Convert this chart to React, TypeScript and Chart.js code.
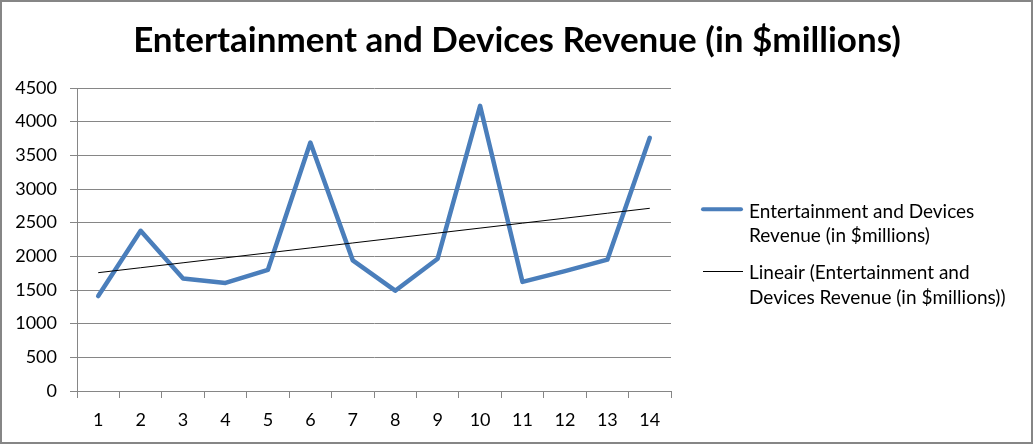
import React, { useEffect, useRef } from "react";
import { Chart, registerables } from "chart.js";

Chart.register(...registerables);

const titleText = "Entertainment and Devices Revenue (in $millions)";
const categories = ["1", "2", "3", "4", "5", "6", "7", "8", "9", "10", "11", "12", "13", "14"];
const revenue = [1410, 2380, 1670, 1605, 1800, 3690, 1940, 1490, 1965, 4235, 1620, 1780, 1950, 3760];
const yTickValues = [0, 500, 1000, 1500, 2000, 2500, 3000, 3500, 4000, 4500];
const seriesLabel = "Entertainment and Devices Revenue (in $millions)";
const trendLabel = "Lineair (Entertainment and Devices Revenue (in $millions))";
const seriesLegendLines = ["Entertainment and Devices", "Revenue (in $millions)"];
const trendLegendLines = ["Lineair (Entertainment and", "Devices Revenue (in $millions))"];

const FONT = "Lato, 'Open Sans', sans-serif";
const BLUE = "#4A7EBB";
const GRID = "#868686";

// Excel-style linear trendline (least squares) over the series
function linearTrend(values: number[]): number[] {
  const n = values.length;
  const xs = values.map((_, i) => i + 1);
  const mx = xs.reduce((a, b) => a + b, 0) / n;
  const my = values.reduce((a, b) => a + b, 0) / n;
  let sxy = 0;
  let sxx = 0;
  for (let i = 0; i < n; i++) {
    sxy += (xs[i] - mx) * (values[i] - my);
    sxx += (xs[i] - mx) * (xs[i] - mx);
  }
  const slope = sxy / sxx;
  const intercept = my - slope * mx;
  return xs.map((x) => intercept + slope * x);
}

const framePlugin = {
  id: "frame",
  beforeDraw(chart: any) {
    const ctx = chart.ctx;
    ctx.save();
    ctx.fillStyle = "#ffffff";
    ctx.fillRect(0, 0, chart.width, chart.height);
    ctx.restore();
  },
  afterDraw(chart: any) {
    const ctx = chart.ctx;
    ctx.save();
    ctx.strokeStyle = GRID;
    ctx.lineWidth = 2;
    ctx.strokeRect(1, 1, chart.width - 2, chart.height - 2);
    ctx.restore();
  },
};

const titlePlugin = {
  id: "excelTitle",
  afterDraw(chart: any) {
    const ctx = chart.ctx;
    ctx.save();
    ctx.font = `bold 35px ${FONT}`;
    ctx.fillStyle = "#000000";
    ctx.textAlign = "center";
    ctx.textBaseline = "alphabetic";
    const target = 770;
    const w = ctx.measureText(titleText).width;
    if ("letterSpacing" in ctx && w < target - 4) {
      const sp = (target - w) / titleText.length;
      (ctx as any).letterSpacing = `${sp.toFixed(2)}px`;
    }
    ctx.fillText(titleText, 517, 52);
    ctx.restore();
  },
};

const legendPlugin = {
  id: "sideLegend",
  afterDraw(chart: any) {
    const ctx = chart.ctx;
    ctx.save();
    ctx.font = `19px ${FONT}`;
    ctx.fillStyle = "#000000";
    ctx.textBaseline = "alphabetic";
    ctx.textAlign = "left";
    const textX = 749;
    // series entry
    ctx.strokeStyle = BLUE;
    ctx.lineWidth = 4;
    ctx.lineCap = "round";
    ctx.beginPath();
    ctx.moveTo(703, 209.3);
    ctx.lineTo(741, 209.3);
    ctx.stroke();
    ctx.fillText(seriesLegendLines[0], textX, 218);
    ctx.fillText(seriesLegendLines[1], textX, 241.5);
    // trend entry
    ctx.strokeStyle = "#000000";
    ctx.lineWidth = 1;
    ctx.lineCap = "butt";
    ctx.beginPath();
    ctx.moveTo(703, 271.5);
    ctx.lineTo(743, 271.5);
    ctx.stroke();
    ctx.fillText(trendLegendLines[0], textX, 278.5);
    ctx.fillText(trendLegendLines[1], textX, 304);
    ctx.restore();
  },
};

export default function App() {
  const canvasRef = useRef<HTMLCanvasElement | null>(null);

  useEffect(() => {
    if (!canvasRef.current) return;
    const trend = linearTrend(revenue);
    const chart = new Chart(canvasRef.current, {
      type: "line",
      data: {
        labels: categories,
        datasets: [
          {
            label: seriesLabel,
            data: revenue,
            borderColor: BLUE,
            backgroundColor: BLUE,
            borderWidth: 4.5,
            pointRadius: 0,
            tension: 0,
            borderJoinStyle: "round",
            borderCapStyle: "round",
            order: 2,
          },
          {
            label: trendLabel,
            data: trend,
            borderColor: "#000000",
            borderWidth: 1,
            pointRadius: 0,
            tension: 0,
            order: 1,
          },
        ],
      },
      options: {
        responsive: false,
        animation: false,
        devicePixelRatio: 1,
        layout: { padding: { left: 0, top: 88, right: 362, bottom: 13 } },
        plugins: {
          legend: { display: false },
          tooltip: { enabled: false },
          title: { display: false },
        },
        scales: {
          x: {
            type: "category",
            offset: true,
            grid: {
              display: true,
              offset: true,
              drawOnChartArea: false,
              drawTicks: true,
              tickLength: 7,
              color: GRID,
            },
            border: { display: true, color: GRID, width: 1 },
            ticks: {
              color: "#000000",
              font: { family: FONT, size: 18 },
              padding: 11,
              maxRotation: 0,
              autoSkip: false,
            },
            afterFit(scale: any) {
              scale.height = 40;
            },
          },
          y: {
            min: 0,
            max: 4500,
            afterBuildTicks(scale: any) {
              scale.ticks = yTickValues.map((v) => ({ value: v }));
            },
            grid: {
              display: true,
              drawOnChartArea: true,
              drawTicks: true,
              tickLength: 7,
              color: GRID,
            },
            border: { display: true, color: GRID, width: 1 },
            ticks: {
              color: "#000000",
              font: { family: FONT, size: 18 },
              padding: 13,
              callback: (v: any) => String(v),
            },
            afterFit(scale: any) {
              scale.width = 77;
            },
          },
        },
      },
      plugins: [framePlugin, titlePlugin, legendPlugin],
    });
    return () => chart.destroy();
  }, []);

  return (
    <div style={{ position: "absolute", left: 0, top: 0, width: 1033, height: 444 }}>
      <canvas ref={canvasRef} width={1033} height={444} style={{ display: "block" }} />
    </div>
  );
}
